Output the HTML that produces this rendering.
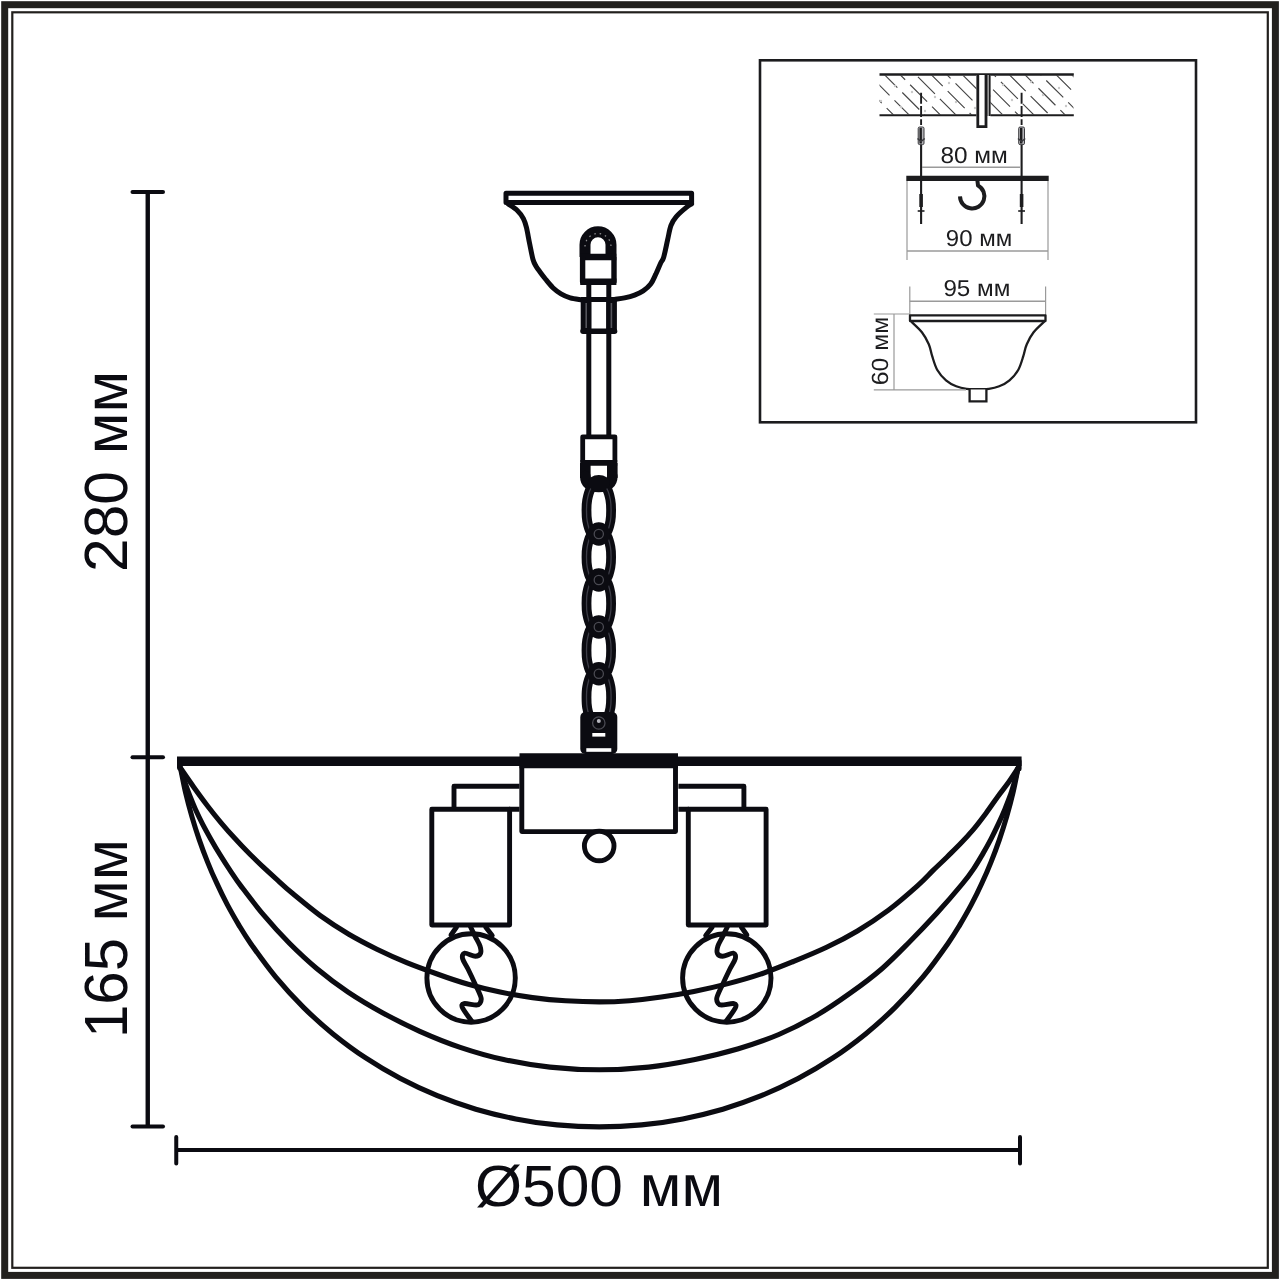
<!DOCTYPE html>
<html lang="ru"><head><meta charset="utf-8"><title>Схема светильника</title>
<style>html,body{margin:0;padding:0;background:#fff;}body{width:1280px;height:1280px;overflow:hidden;}svg{display:block;will-change:transform;}text{font-family:"Liberation Sans",sans-serif;fill:#0b0b11;text-rendering:geometricPrecision;}</style></head><body>
<svg width="1280" height="1280" viewBox="0 0 1280 1280">
<rect x="0" y="0" width="1280" height="1280" fill="#ffffff"/>
<g fill="none" stroke="#22201d">
<rect x="4.7" y="4.7" width="1270.7" height="1270.7" stroke-width="7"/>
<rect x="12.3" y="12.3" width="1255.5" height="1255.5" stroke-width="2.2"/>
</g>
<g fill="none" stroke="#0b0b11" stroke-linecap="round">
<path d="M147.75 192V1126.6" stroke-width="4.4" stroke-linecap="butt"/>
<path d="M132.5 192H163" stroke-width="4"/>
<path d="M132.5 757.25H163" stroke-width="4"/>
<path d="M132.5 1126.6H163" stroke-width="4"/>
<path d="M176.25 1150H1020" stroke-width="4" stroke-linecap="butt"/>
<path d="M176.25 1137V1163.5M1020 1137V1163.5" stroke-width="4"/>
</g>
<text transform="translate(127 572) rotate(-90)" font-size="61" textLength="201" lengthAdjust="spacingAndGlyphs">280 мм</text>
<text transform="translate(126.6 1038) rotate(-90)" font-size="61" textLength="199" lengthAdjust="spacingAndGlyphs">165 мм</text>
<text x="475" y="1206" font-size="58" textLength="248" lengthAdjust="spacingAndGlyphs">Ø500 мм</text>
<g fill="none" stroke="#0b0b11" stroke-width="5" stroke-linejoin="round" stroke-linecap="round">
<path d="M506 193.2H691.5999999999999V202.6H506Z"/>
<path d="M508.2 203.9C509.7 205.0 514.8 208.1 517.3 210.5C519.8 212.9 521.9 215.7 523.4 218.6C524.9 221.5 525.5 223.6 526.5 227.7C527.5 231.8 528.4 237.7 529.5 243.0C530.6 248.3 531.9 255.6 533.0 259.5C534.1 263.4 534.8 264.1 536.0 266.2C537.2 268.3 538.6 270.0 540.2 272.2C541.8 274.4 543.7 276.9 545.8 279.5C547.9 282.1 550.4 285.3 552.9 287.7C555.4 290.1 558.1 292.1 561.0 293.8C563.9 295.5 566.7 296.8 570.2 297.8C573.7 298.8 580.0 299.5 582.0 299.9"/>
<path d="M691.6 203.9C690.7 204.5 689.0 205.3 686.4 207.4C683.8 209.5 678.9 213.6 676.3 216.6C673.7 219.6 672.3 221.8 670.9 225.7C669.5 229.6 668.8 234.6 667.6 239.9C666.4 245.2 664.8 253.6 663.6 257.5C662.4 261.4 661.9 260.4 660.6 263.2C659.3 266.0 657.4 270.7 655.8 274.2C654.1 277.7 652.8 281.3 650.7 284.1C648.6 286.9 645.9 289.1 643.2 290.9C640.5 292.7 637.7 293.9 634.6 295.1C631.5 296.3 627.9 297.2 624.5 297.9C621.1 298.6 616.2 299.1 614.5 299.4"/>
</g>
<g fill="none" stroke="#0b0b11" stroke-linejoin="round">
<path d="M585.0 257V244.75A13.0 13.0 0 0 1 611.0 244.75V257" stroke-width="11"/>
<path d="M580 257H616.3" stroke-width="6.4"/>
<path d="M582.6 257V281.6H614V257" stroke-width="5.4"/>
<path d="M580.2 281.8H616.4" stroke-width="6.4"/>
<path d="M588.8 284V435M608.8 284V435" stroke-width="5"/>
<path d="M586 299.5V331.2M611.5999999999999 299.5V331.2" stroke-width="10.6"/>
<path d="M581 299.6H616.5999999999999" stroke-width="5"/>
<path d="M583 331.2H614.5999999999999" stroke-width="5.4" stroke-linecap="round"/>
<path d="M582.7 462.5V436.8H614.8999999999999V462.5" stroke-width="4.8"/>
<path d="M580.4 462.8H617.1999999999999" stroke-width="5.8"/>
<path d="M585.3 463V478M612.3 463V478" stroke-width="10.6"/>
<path d="M585.3 476Q585.3 487 598.8 487Q612.3 487 612.3 476" stroke-width="10.6" stroke-linecap="round"/>
</g>
<path d="M586.2 303V328M611.3999999999999 303V328" stroke="#55555c" stroke-width="1.6" fill="none"/>
<path d="M585 246.5A13.0 13.0 0 0 1 611.0 246.5" stroke="#ffffff" stroke-opacity=".55" stroke-width="1.2" stroke-dasharray="1.5 4" fill="none"/>
<path d="M598.8 481.0C597.4 482.3 592.5 485.8 590.6 489.0C588.7 492.2 587.9 496.4 587.2 500.0C586.5 503.6 586.5 507.0 586.5 510.5C586.5 514.0 586.5 517.4 587.2 521.0C587.9 524.6 588.7 528.8 590.6 532.0C592.5 535.2 596.1 540.0 598.8 540.0C601.5 540.0 605.1 535.2 607.0 532.0C608.9 528.8 609.7 524.6 610.4 521.0C611.1 517.4 611.1 514.0 611.1 510.5C611.1 507.0 611.1 503.6 610.4 500.0C609.7 496.4 608.9 492.2 607.0 489.0C605.1 485.8 600.2 482.3 598.8 481.0ZM598.8 528.0C597.4 529.3 592.5 532.8 590.6 536.0C588.7 539.2 587.9 543.5 587.2 547.0C586.5 550.5 586.5 553.7 586.5 557.0C586.5 560.3 586.5 563.5 587.2 567.0C587.9 570.5 588.7 574.8 590.6 578.0C592.5 581.2 596.1 586.0 598.8 586.0C601.5 586.0 605.1 581.2 607.0 578.0C608.9 574.8 609.7 570.5 610.4 567.0C611.1 563.5 611.1 560.3 611.1 557.0C611.1 553.7 611.1 550.5 610.4 547.0C609.7 543.5 608.9 539.2 607.0 536.0C605.1 532.8 600.2 529.3 598.8 528.0ZM598.8 574.0C597.4 575.3 592.5 578.8 590.6 582.0C588.7 585.2 587.9 589.4 587.2 593.0C586.5 596.6 586.5 600.0 586.5 603.5C586.5 607.0 586.5 610.4 587.2 614.0C587.9 617.6 588.7 621.8 590.6 625.0C592.5 628.2 596.1 633.0 598.8 633.0C601.5 633.0 605.1 628.2 607.0 625.0C608.9 621.8 609.7 617.6 610.4 614.0C611.1 610.4 611.1 607.0 611.1 603.5C611.1 600.0 611.1 596.6 610.4 593.0C609.7 589.4 608.9 585.2 607.0 582.0C605.1 578.8 600.2 575.3 598.8 574.0ZM598.8 621.0C597.4 622.3 592.5 625.8 590.6 629.0C588.7 632.2 587.9 636.4 587.2 640.0C586.5 643.6 586.5 646.9 586.5 650.4C586.5 653.8 586.5 657.2 587.2 660.8C587.9 664.3 588.7 668.6 590.6 671.8C592.5 674.9 596.1 679.8 598.8 679.8C601.5 679.8 605.1 674.9 607.0 671.8C608.9 668.6 609.7 664.3 610.4 660.8C611.1 657.2 611.1 653.8 611.1 650.4C611.1 646.9 611.1 643.6 610.4 640.0C609.7 636.4 608.9 632.2 607.0 629.0C605.1 625.8 600.2 622.3 598.8 621.0ZM598.8 667.8C597.4 669.1 592.5 672.6 590.6 675.8C588.7 678.9 587.9 683.1 587.2 686.8C586.5 690.4 586.5 693.8 586.5 697.4C586.5 700.9 586.5 704.4 587.2 708.0C587.9 711.6 588.7 715.8 590.6 719.0C592.5 722.2 596.1 727.0 598.8 727.0C601.5 727.0 605.1 722.2 607.0 719.0C608.9 715.8 609.7 711.6 610.4 708.0C611.1 704.4 611.1 700.9 611.1 697.4C611.1 693.8 611.1 690.4 610.4 686.8C609.7 683.1 608.9 678.9 607.0 675.8C605.1 672.6 600.2 669.1 598.8 667.8Z" fill="none" stroke="#0b0b11" stroke-width="9.8" stroke-linejoin="round"/>
<path d="M598.8 481.0C597.4 482.3 592.5 485.8 590.6 489.0C588.7 492.2 587.9 496.4 587.2 500.0C586.5 503.6 586.5 507.0 586.5 510.5C586.5 514.0 586.5 517.4 587.2 521.0C587.9 524.6 588.7 528.8 590.6 532.0C592.5 535.2 596.1 540.0 598.8 540.0C601.5 540.0 605.1 535.2 607.0 532.0C608.9 528.8 609.7 524.6 610.4 521.0C611.1 517.4 611.1 514.0 611.1 510.5C611.1 507.0 611.1 503.6 610.4 500.0C609.7 496.4 608.9 492.2 607.0 489.0C605.1 485.8 600.2 482.3 598.8 481.0ZM598.8 528.0C597.4 529.3 592.5 532.8 590.6 536.0C588.7 539.2 587.9 543.5 587.2 547.0C586.5 550.5 586.5 553.7 586.5 557.0C586.5 560.3 586.5 563.5 587.2 567.0C587.9 570.5 588.7 574.8 590.6 578.0C592.5 581.2 596.1 586.0 598.8 586.0C601.5 586.0 605.1 581.2 607.0 578.0C608.9 574.8 609.7 570.5 610.4 567.0C611.1 563.5 611.1 560.3 611.1 557.0C611.1 553.7 611.1 550.5 610.4 547.0C609.7 543.5 608.9 539.2 607.0 536.0C605.1 532.8 600.2 529.3 598.8 528.0ZM598.8 574.0C597.4 575.3 592.5 578.8 590.6 582.0C588.7 585.2 587.9 589.4 587.2 593.0C586.5 596.6 586.5 600.0 586.5 603.5C586.5 607.0 586.5 610.4 587.2 614.0C587.9 617.6 588.7 621.8 590.6 625.0C592.5 628.2 596.1 633.0 598.8 633.0C601.5 633.0 605.1 628.2 607.0 625.0C608.9 621.8 609.7 617.6 610.4 614.0C611.1 610.4 611.1 607.0 611.1 603.5C611.1 600.0 611.1 596.6 610.4 593.0C609.7 589.4 608.9 585.2 607.0 582.0C605.1 578.8 600.2 575.3 598.8 574.0ZM598.8 621.0C597.4 622.3 592.5 625.8 590.6 629.0C588.7 632.2 587.9 636.4 587.2 640.0C586.5 643.6 586.5 646.9 586.5 650.4C586.5 653.8 586.5 657.2 587.2 660.8C587.9 664.3 588.7 668.6 590.6 671.8C592.5 674.9 596.1 679.8 598.8 679.8C601.5 679.8 605.1 674.9 607.0 671.8C608.9 668.6 609.7 664.3 610.4 660.8C611.1 657.2 611.1 653.8 611.1 650.4C611.1 646.9 611.1 643.6 610.4 640.0C609.7 636.4 608.9 632.2 607.0 629.0C605.1 625.8 600.2 622.3 598.8 621.0ZM598.8 667.8C597.4 669.1 592.5 672.6 590.6 675.8C588.7 678.9 587.9 683.1 587.2 686.8C586.5 690.4 586.5 693.8 586.5 697.4C586.5 700.9 586.5 704.4 587.2 708.0C587.9 711.6 588.7 715.8 590.6 719.0C592.5 722.2 596.1 727.0 598.8 727.0C601.5 727.0 605.1 722.2 607.0 719.0C608.9 715.8 609.7 711.6 610.4 708.0C611.1 704.4 611.1 700.9 611.1 697.4C611.1 693.8 611.1 690.4 610.4 686.8C609.7 683.1 608.9 678.9 607.0 675.8C605.1 672.6 600.2 669.1 598.8 667.8Z" fill="none" stroke="#3e3e48" stroke-width="1.3" stroke-linejoin="round"/>
<g fill="#0b0b11">
<ellipse cx="598.8" cy="534" rx="11.2" ry="11.8"/>
<ellipse cx="598.8" cy="580" rx="11.2" ry="11.8"/>
<ellipse cx="598.8" cy="627" rx="11.2" ry="11.8"/>
<ellipse cx="598.8" cy="673.75" rx="11.2" ry="11.8"/>
<ellipse cx="598.8" cy="483" rx="11" ry="8"/>
</g>
<g fill="none" stroke="#4a4a52" stroke-width="1.3">
<circle cx="598.8" cy="534" r="4.6"/>
<circle cx="598.8" cy="580" r="4.6"/>
<circle cx="598.8" cy="627" r="4.6"/>
<circle cx="598.8" cy="673.75" r="4.6"/>
</g>
<rect x="580.3" y="712" width="37.0" height="42" rx="5" fill="#0b0b11"/>
<rect x="592.3" y="733" width="13" height="3.6" fill="#fff"/>
<rect x="586.3" y="748.2" width="25" height="3.6" fill="#fff"/>
<circle cx="598.8" cy="721" r="2" fill="#b8b8c0"/>
<circle cx="598.8" cy="723" r="6.2" fill="none" stroke="#4a4a52" stroke-width="1.3"/>
<g fill="none" stroke="#0b0b11" stroke-width="5.1" stroke-linejoin="round" stroke-linecap="round">
<path d="M180.5 768.0C182.7 771.2 189.4 781.0 193.8 787.2C198.3 793.5 202.8 799.7 207.4 805.7C211.9 811.6 216.5 817.3 221.1 822.8C225.7 828.3 230.3 833.5 235.0 838.5C239.6 843.6 244.3 848.5 249.0 853.3C253.8 858.0 258.5 862.7 263.3 867.2C268.1 871.7 272.9 876.0 277.8 880.3C282.6 884.7 285.3 887.4 292.4 893.3C299.5 899.1 310.9 908.8 320.3 915.6C329.7 922.4 339.4 928.6 348.8 934.2C358.2 939.7 367.3 944.4 376.9 949.2C386.6 953.9 396.7 958.5 406.7 962.7C416.8 966.8 426.9 970.4 437.2 974.0C447.4 977.7 457.8 981.3 468.3 984.3C478.8 987.3 489.4 989.9 500.1 992.1C510.8 994.3 521.6 996.1 532.5 997.6C543.4 999.0 554.4 1000.1 565.6 1000.8C576.7 1001.5 588.6 1001.9 599.3 1001.9C610.0 1001.9 619.3 1001.5 629.7 1000.7C640.0 999.9 650.6 998.7 661.3 997.1C672.0 995.6 682.9 993.7 693.9 991.5C704.9 989.3 716.0 986.8 727.1 983.9C738.2 981.1 749.3 978.0 760.5 974.2C771.6 970.5 782.7 965.9 793.7 961.4C804.8 956.9 815.9 952.4 826.6 947.3C837.2 942.3 847.1 937.2 857.4 931.0C867.7 924.8 878.3 917.8 888.3 910.3C898.3 902.7 910.3 892.2 917.7 885.6C925.1 879.1 927.8 875.7 932.6 870.9C937.5 866.1 942.4 861.6 947.1 857.0C951.7 852.4 956.3 848.0 960.8 843.3C965.3 838.6 969.6 833.8 973.9 828.8C978.1 823.7 982.2 818.3 986.2 812.9C990.2 807.6 994.0 801.8 997.7 796.7C1001.4 791.7 1005.0 787.3 1008.4 782.6C1011.8 777.8 1016.5 770.4 1018.1 768.0"/>
<path d="M180.5 768.0C181.2 770.2 183.1 776.7 184.6 781.2C186.1 785.7 187.7 790.3 189.5 795.0C191.3 799.6 193.2 804.3 195.4 809.2C197.6 814.0 200.0 819.0 202.6 824.1C205.2 829.1 208.1 834.3 211.0 839.5C213.9 844.7 217.0 849.9 220.3 855.1C223.5 860.3 226.9 865.6 230.4 870.8C233.9 876.1 235.8 879.2 241.4 886.6C247.0 894.0 256.0 906.0 264.0 915.4C272.0 924.9 280.6 934.4 289.4 943.3C298.2 952.1 307.0 960.4 316.7 968.5C326.5 976.7 337.1 984.7 348.1 992.1C359.0 999.4 370.5 1006.2 382.4 1012.7C394.4 1019.3 406.9 1025.5 419.8 1031.3C432.8 1037.1 446.2 1042.6 460.2 1047.3C474.2 1052.0 488.6 1056.2 503.6 1059.5C518.5 1062.8 534.0 1065.4 549.9 1067.1C565.9 1068.8 582.8 1069.8 599.3 1069.8C615.8 1069.8 632.7 1068.8 648.7 1067.1C664.6 1065.4 680.1 1062.5 695.0 1059.5C710.0 1056.4 724.4 1052.9 738.4 1048.8C752.4 1044.6 765.8 1040.0 778.8 1034.5C791.7 1029.0 804.2 1022.6 816.2 1015.6C828.1 1008.7 839.6 1000.7 850.5 992.9C861.5 985.1 872.1 977.2 881.9 968.7C891.6 960.3 900.1 951.4 909.2 942.2C918.4 933.0 927.9 923.0 936.8 913.3C945.6 903.6 956.1 891.4 962.2 884.0C968.4 876.6 970.2 873.9 973.6 868.8C977.1 863.7 979.9 858.7 982.9 853.6C985.8 848.6 988.6 843.6 991.2 838.6C993.8 833.6 996.2 828.6 998.5 823.7C1000.8 818.8 1002.9 814.0 1004.9 809.2C1006.9 804.4 1008.7 799.6 1010.4 795.0C1012.0 790.3 1013.4 785.7 1014.7 781.2C1016.0 776.7 1017.5 770.2 1018.1 768.0"/>
<path d="M180.5 768.0C181.4 772.1 183.7 784.6 185.6 792.7C187.5 800.7 189.6 808.7 191.9 816.6C194.2 824.4 196.6 832.1 199.2 839.7C201.8 847.3 204.6 854.8 207.6 862.1C210.5 869.5 213.7 876.7 217.0 883.7C220.2 890.8 223.7 897.8 227.3 904.6C230.9 911.4 234.7 918.0 238.6 924.6C242.5 931.1 244.6 934.9 250.8 943.7C257.0 952.5 267.0 966.5 275.8 977.2C284.6 987.8 294.1 998.1 303.7 1007.6C313.2 1017.0 322.6 1025.5 333.0 1033.9C343.3 1042.2 354.4 1050.5 365.7 1057.9C376.9 1065.3 388.6 1072.2 400.5 1078.5C412.5 1084.8 424.8 1090.5 437.3 1095.7C449.9 1100.8 462.7 1105.3 475.8 1109.2C488.9 1113.0 502.3 1116.3 515.8 1118.9C529.3 1121.6 543.1 1123.6 557.0 1124.9C570.9 1126.2 585.2 1126.9 599.3 1126.9C613.4 1126.9 627.7 1126.2 641.6 1124.9C655.5 1123.6 669.3 1121.6 682.8 1118.9C696.3 1116.3 709.7 1113.0 722.8 1109.2C735.9 1105.3 748.7 1100.8 761.3 1095.7C773.8 1090.5 786.1 1084.8 798.1 1078.5C810.0 1072.2 821.7 1065.3 832.9 1057.9C844.2 1050.5 855.3 1042.2 865.6 1033.9C876.0 1025.5 885.4 1017.0 894.9 1007.6C904.5 998.1 914.0 987.8 922.8 977.2C931.6 966.5 941.6 952.5 947.8 943.7C954.0 934.9 956.1 931.1 960.0 924.6C963.9 918.0 967.7 911.4 971.3 904.6C974.9 897.8 978.4 890.8 981.6 883.7C984.9 876.7 988.1 869.5 991.0 862.1C994.0 854.8 996.8 847.3 999.4 839.7C1002.0 832.1 1004.4 824.4 1006.7 816.6C1009.0 808.7 1011.1 800.7 1013.0 792.7C1014.9 784.6 1017.2 772.1 1018.1 768.0"/>
</g>
<path d="M177 761.2H1021.6" stroke="#0b0b11" stroke-width="9.6" fill="none"/>
<path d="M179.3 761V768M1019.3 761V769" stroke="#0b0b11" stroke-width="4.6" stroke-linecap="round" fill="none"/>
<g fill="none" stroke="#0b0b11" stroke-width="4.9" stroke-linejoin="round">
<path d="M521.8 760V831.6H675.5V760" fill="#fff"/>
<path d="M519.5 760.8H678" stroke-width="15"/>
<circle cx="599.1999999999999" cy="846" r="14.8" fill="#fff"/>
<path d="M519.5 786.3H454V809M509 809.3H519.5"/>
<path d="M431.8 809.3H509.6V925H431.8Z"/>
<circle cx="471.1" cy="978" r="44.2"/>
<path d="M456.6 927L451 935M485.6 927L492.2 935.5" stroke-linecap="round"/>
<path d="M470.6 927.0C471.4 928.6 473.7 933.4 475.3 936.6C476.9 939.8 479.1 943.2 480.0 946.0C480.9 948.8 481.3 951.7 480.5 953.4C479.7 955.1 477.9 956.3 475.3 956.3C472.7 956.3 466.7 952.8 464.6 953.2C462.5 953.6 462.0 956.0 462.6 958.6C463.2 961.2 465.9 964.7 468.0 969.0C470.1 973.3 473.1 979.6 475.3 984.4C477.5 989.1 480.2 994.4 481.0 997.5C481.8 1000.6 480.8 1001.8 480.0 1003.0C479.2 1004.2 479.0 1004.9 476.3 1005.0C473.6 1005.1 466.3 1003.1 464.0 1003.6C461.7 1004.1 461.3 1005.1 462.6 1008.0C463.9 1010.9 470.1 1018.8 471.6 1021.0" stroke-linecap="round" stroke-linejoin="round"/>
<path d="M678.4000000000001 786.3H743.9000000000001V809M688.9000000000001 809.3H678.4000000000001"/>
<path d="M766.1000000000001 809.3H688.3000000000001V925H766.1000000000001Z"/>
<circle cx="726.8000000000001" cy="978" r="44.2"/>
<path d="M741.3000000000001 927L746.9000000000001 935M712.3000000000001 927L705.7 935.5" stroke-linecap="round"/>
<path d="M727.3 927.0C726.5 928.6 724.2 933.4 722.6 936.6C721.0 939.8 718.8 943.2 717.9 946.0C717.0 948.8 716.6 951.7 717.4 953.4C718.2 955.1 720.0 956.3 722.6 956.3C725.3 956.3 731.2 952.8 733.3 953.2C735.4 953.6 735.9 956.0 735.3 958.6C734.7 961.2 732.0 964.7 729.9 969.0C727.8 973.3 724.8 979.6 722.6 984.4C720.4 989.1 717.7 994.4 716.9 997.5C716.1 1000.6 717.1 1001.8 717.9 1003.0C718.7 1004.2 718.9 1004.9 721.6 1005.0C724.3 1005.1 731.6 1003.1 733.9 1003.6C736.2 1004.1 736.6 1005.1 735.3 1008.0C734.0 1010.9 727.8 1018.8 726.3 1021.0" stroke-linecap="round" stroke-linejoin="round"/>
</g>
<rect x="760" y="60.3" width="436" height="362" fill="none" stroke="#1c1c1e" stroke-width="2.6"/>
<defs><clipPath id="ceil"><rect x="879.5" y="75.5" width="194" height="39"/></clipPath></defs>
<g clip-path="url(#ceil)" stroke="#454545" stroke-width="1.15" fill="none">
<path d="M835 72L881 118" stroke-dasharray="24 7" stroke-dashoffset="0"/>
<path d="M850.6 72L896.6 118" stroke-dasharray="24 7" stroke-dashoffset="11"/>
<path d="M866.2 72L912.2 118" stroke-dasharray="24 7" stroke-dashoffset="22"/>
<path d="M881.8000000000001 72L927.8000000000001 118" stroke-dasharray="24 7" stroke-dashoffset="2"/>
<path d="M897.4000000000001 72L943.4000000000001 118" stroke-dasharray="24 7" stroke-dashoffset="13"/>
<path d="M913.0000000000001 72L959.0000000000001 118" stroke-dasharray="24 7" stroke-dashoffset="24"/>
<path d="M928.6000000000001 72L974.6000000000001 118" stroke-dasharray="24 7" stroke-dashoffset="4"/>
<path d="M944.2000000000002 72L990.2000000000002 118" stroke-dasharray="24 7" stroke-dashoffset="15"/>
<path d="M959.8000000000002 72L1005.8000000000002 118" stroke-dasharray="24 7" stroke-dashoffset="26"/>
<path d="M975.4000000000002 72L1021.4000000000002 118" stroke-dasharray="24 7" stroke-dashoffset="6"/>
<path d="M991.0000000000002 72L1037.0000000000002 118" stroke-dasharray="24 7" stroke-dashoffset="17"/>
<path d="M1006.6000000000003 72L1052.6000000000004 118" stroke-dasharray="24 7" stroke-dashoffset="28"/>
<path d="M1022.2000000000003 72L1068.2000000000003 118" stroke-dasharray="24 7" stroke-dashoffset="8"/>
<path d="M1037.8000000000002 72L1083.8000000000002 118" stroke-dasharray="24 7" stroke-dashoffset="19"/>
<path d="M1053.4 72L1099.4 118" stroke-dasharray="24 7" stroke-dashoffset="30"/>
<path d="M1069.0 72L1115.0 118" stroke-dasharray="24 7" stroke-dashoffset="10"/>
</g>
<g fill="#c9c9c9">
<circle cx="881" cy="101" r="1.2"/>
<circle cx="895" cy="86" r="1.2"/>
<circle cx="901" cy="107" r="1.2"/>
<circle cx="912" cy="92" r="1.2"/>
<circle cx="935" cy="97" r="1.2"/>
<circle cx="949" cy="83" r="1.2"/>
<circle cx="956" cy="102" r="1.2"/>
<circle cx="975" cy="108" r="1.2"/>
<circle cx="1003" cy="85" r="1.2"/>
<circle cx="1012" cy="100" r="1.2"/>
<circle cx="1031" cy="82" r="1.2"/>
<circle cx="1043" cy="95" r="1.2"/>
<circle cx="1059" cy="88" r="1.2"/>
<circle cx="1066" cy="106" r="1.2"/>
<circle cx="925" cy="111" r="1.2"/>
<circle cx="990" cy="96" r="1.2"/>
</g>
<path d="M879.5 74.6H1073.8" stroke="#1c1c1e" stroke-width="2.5" fill="none"/>
<path d="M879.5 115.3H1073.8" stroke="#1c1c1e" stroke-width="2.1" fill="none"/>
<rect x="976.4" y="75" width="14" height="52" fill="#fff"/>
<rect x="985.6" y="75" width="4.2" height="41" fill="#9a9a9a"/>
<path d="M977.8 75V126.6H986V75" stroke="#1c1c1e" stroke-width="2.8" fill="none" stroke-linejoin="miter"/>
<path d="M986 75V126.6" stroke="#1c1c1e" stroke-width="1.6" fill="none"/>
<path d="M989.8 75V116" stroke="#1c1c1e" stroke-width="1.6" fill="none"/>
<path d="M921.1 92.8V125" stroke="#1c1c1e" stroke-width="1.9" stroke-dasharray="11 2.2" fill="none"/>
<path d="M921.1 145V224" stroke="#1c1c1e" stroke-width="2.1" fill="none"/>
<rect x="918.2" y="127" width="5.8" height="17.6" rx="1.4" fill="#b4b4b8" stroke="#3a3a3e" stroke-width="1"/>
<path d="M920.7 128V143.5" stroke="#1c1c1e" stroke-width="2.4" fill="none"/>
<path d="M917.5 138.5L921.1 141.5L924.7 138.5" stroke="#3a3a3e" stroke-width="1.6" fill="none"/>
<path d="M921.1 194V207" stroke="#1c1c1e" stroke-width="3.6" fill="none"/>
<path d="M917.7 211H924.5" stroke="#1c1c1e" stroke-width="1.6" fill="none"/>
<path d="M1021.6 92.8V125" stroke="#1c1c1e" stroke-width="1.9" stroke-dasharray="11 2.2" fill="none"/>
<path d="M1021.6 145V224" stroke="#1c1c1e" stroke-width="2.1" fill="none"/>
<rect x="1018.7" y="127" width="5.8" height="17.6" rx="1.4" fill="#b4b4b8" stroke="#3a3a3e" stroke-width="1"/>
<path d="M1021.2 128V143.5" stroke="#1c1c1e" stroke-width="2.4" fill="none"/>
<path d="M1018.0 138.5L1021.6 141.5L1025.2 138.5" stroke="#3a3a3e" stroke-width="1.6" fill="none"/>
<path d="M1021.6 194V207" stroke="#1c1c1e" stroke-width="3.6" fill="none"/>
<path d="M1018.2 211H1025.0" stroke="#1c1c1e" stroke-width="1.6" fill="none"/>
<text x="940.4" y="162.8" font-size="23" textLength="67.4" lengthAdjust="spacingAndGlyphs" style="fill:#1c1c1e">80 мм</text>
<path d="M922 167.3H1021" stroke="#9a9a9a" stroke-width="1.4" fill="none"/>
<path d="M906.3 178.4H1048.7" stroke="#1c1c1e" stroke-width="5.2" fill="none"/>
<path d="M977.4 180.5L978 185.5A12.2 12.2 0 1 1 960 196.4" stroke="#1c1c1e" stroke-width="4" fill="none" stroke-linecap="butt" stroke-linejoin="round"/>
<path d="M907 181V260M1048 181V260" stroke="#9a9a9a" stroke-width="1.2" fill="none"/>
<text x="945.8" y="246" font-size="23" textLength="66.4" lengthAdjust="spacingAndGlyphs" style="fill:#1c1c1e">90 мм</text>
<path d="M907 251H1048" stroke="#9a9a9a" stroke-width="1.4" fill="none"/>
<text x="943.4" y="296.1" font-size="23" textLength="67" lengthAdjust="spacingAndGlyphs" style="fill:#1c1c1e">95 мм</text>
<path d="M909.8 286.6V315M1045.6 286.6V315" stroke="#9a9a9a" stroke-width="1.2" fill="none"/>
<path d="M909.8 301.3H1045.6" stroke="#9a9a9a" stroke-width="1.4" fill="none"/>
<g fill="none" stroke="#1c1c1e" stroke-width="2.3" stroke-linejoin="round" stroke-linecap="round">
<path d="M910 315.3H1045.5V321H910Z"/>
<path d="M911.6 321.9C913.3 323.6 919.0 328.5 921.9 332.2C924.8 335.9 927.0 340.2 928.8 344.2C930.5 348.2 930.8 351.9 932.2 356.2C933.6 360.6 935.0 366.0 937.3 370.0C939.6 374.0 942.8 377.6 946.0 380.3C949.2 383.0 952.8 384.9 956.2 386.3C959.7 387.7 963.0 388.4 966.6 388.9C970.2 389.4 975.9 389.1 977.8 389.2"/>
<path d="M1043.9 321.9C1042.2 323.6 1036.5 328.5 1033.6 332.2C1030.7 335.9 1028.5 340.2 1026.8 344.2C1025.0 348.2 1024.7 351.9 1023.3 356.2C1021.9 360.6 1020.5 366.0 1018.2 370.0C1015.9 374.0 1012.7 377.6 1009.5 380.3C1006.3 383.0 1002.7 384.9 999.2 386.3C995.8 387.7 992.5 388.4 988.9 388.9C985.3 389.4 979.6 389.1 977.8 389.2"/>
<path d="M969.6 389.5V401.4H986.4V389.5" fill="#fff" stroke-linejoin="miter"/>
</g>
<text transform="translate(888.4 385.2) rotate(-90)" font-size="23.4" textLength="68.6" lengthAdjust="spacingAndGlyphs" style="fill:#1c1c1e">60 мм</text>
<path d="M894 314V389.8M873.8 314H909M873.8 389.8H966" stroke="#9a9a9a" stroke-width="1.2" fill="none"/>
</svg></body></html>
